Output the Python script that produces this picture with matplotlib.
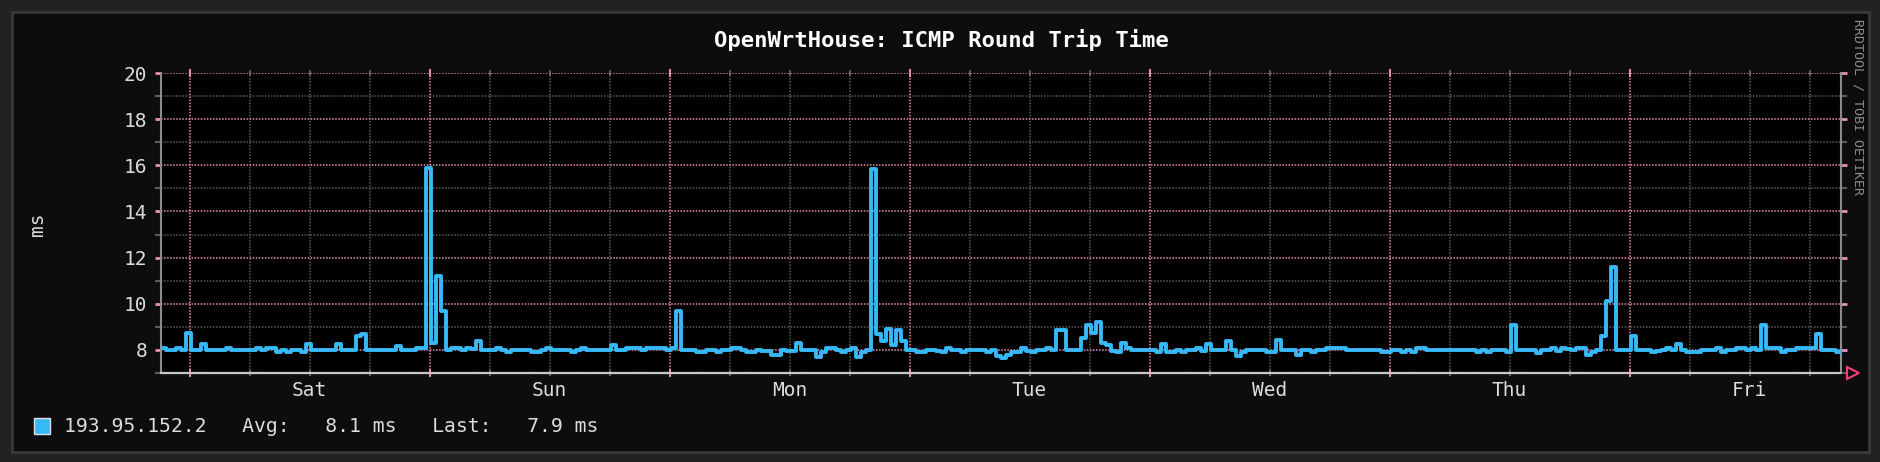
import numpy as np
import matplotlib.pyplot as plt
from matplotlib.patches import Rectangle

plt.rcParams['font.family'] = ['DejaVu Sans Mono']
plt.rcParams['lines.scale_dashes'] = False

# ping round trip time (ms), 30 minute averages, oldest first (one week)
rtt_ms = [
    8.1, 8.0, 8.0, 8.1, 8.0, 8.75, 8.0, 8.0, 8.25, 8.0, 8.0, 8.0,
    8.0, 8.1, 8.0, 8.0, 8.0, 8.0, 8.0, 8.1, 8.0, 8.1, 8.1, 7.9,
    8.0, 7.9, 8.0, 8.0, 7.9, 8.25, 8.0, 8.0, 8.0, 8.0, 8.0, 8.25,
    8.0, 8.0, 8.0, 8.6, 8.7, 8.0, 8.0, 8.0, 8.0, 8.0, 8.0, 8.15,
    8.0, 8.0, 8.0, 8.1, 8.1, 15.9, 8.3, 11.2, 9.7, 8.0, 8.1, 8.1,
    8.0, 8.1, 8.05, 8.4, 8.0, 8.0, 8.0, 8.1, 8.0, 7.9, 8.0, 8.0,
    8.0, 8.0, 7.9, 7.9, 8.0, 8.1, 8.0, 8.0, 8.0, 8.0, 7.9, 8.0,
    8.1, 8.0, 8.0, 8.0, 8.0, 8.0, 8.2, 8.0, 8.0, 8.1, 8.1, 8.1,
    8.0, 8.1, 8.1, 8.1, 8.1, 8.0, 8.1, 9.7, 8.0, 8.0, 8.0, 7.9,
    7.9, 8.0, 8.0, 7.9, 8.0, 8.0, 8.1, 8.1, 8.0, 7.9, 7.9, 8.0,
    7.95, 7.95, 7.8, 7.8, 8.0, 7.95, 7.95, 8.3, 8.0, 8.0, 8.0, 7.7,
    7.9, 8.1, 8.1, 8.0, 7.9, 8.0, 8.1, 7.7, 7.9, 8.0, 15.85, 8.7,
    8.4, 8.9, 8.2, 8.85, 8.4, 8.0, 8.0, 7.9, 7.9, 8.0, 8.0, 7.95,
    7.9, 8.1, 8.0, 8.0, 7.9, 8.0, 8.0, 8.0, 8.0, 7.9, 8.0, 7.75,
    7.65, 7.8, 7.9, 7.9, 8.1, 7.95, 7.9, 8.0, 8.0, 8.1, 8.0, 8.85,
    8.85, 8.0, 8.0, 8.0, 8.5, 9.1, 8.75, 9.2, 8.3, 8.2, 7.95, 7.9,
    8.3, 8.1, 8.0, 8.0, 8.0, 8.0, 8.0, 7.9, 8.25, 7.9, 7.9, 8.0,
    7.9, 8.0, 8.0, 8.1, 7.95, 8.25, 8.0, 8.0, 8.0, 8.4, 8.0, 7.75,
    7.9, 8.0, 8.0, 8.0, 8.0, 7.9, 7.9, 8.45, 8.0, 8.0, 8.0, 7.8,
    8.0, 8.0, 7.9, 8.0, 8.0, 8.1, 8.1, 8.1, 8.1, 8.0, 8.0, 8.0,
    8.0, 8.0, 8.0, 8.0, 7.9, 7.9, 8.0, 8.0, 7.9, 8.0, 7.9, 8.1,
    8.1, 8.0, 8.0, 8.0, 8.0, 8.0, 8.0, 8.0, 8.0, 8.0, 8.0, 7.9,
    8.0, 7.9, 8.0, 8.0, 8.0, 7.9, 9.1, 8.0, 8.0, 8.0, 8.0, 7.85,
    8.0, 8.0, 8.1, 7.95, 8.1, 8.05, 8.0, 8.1, 8.1, 7.8, 7.9, 8.0,
    8.6, 10.1, 11.6, 8.0, 8.0, 8.0, 8.6, 8.0, 8.0, 8.0, 7.9, 7.95,
    8.0, 8.1, 8.0, 8.25, 8.0, 7.9, 7.9, 7.9, 8.0, 8.0, 8.0, 8.1,
    7.9, 8.0, 8.0, 8.1, 8.1, 8.0, 8.1, 8.0, 9.1, 8.1, 8.1, 8.1,
    7.9, 8.0, 8.0, 8.1, 8.1, 8.1, 8.1, 8.7, 8.0, 8.0, 8.0, 7.9,
]
step_h = 0.5            # hours per sample
span_h = 168            # one week shown
first_midnight_h = 2.85 # graph starts friday 21:09
day_names = ["Sat", "Sun", "Mon", "Tue", "Wed", "Thu", "Fri"]
host = "193.95.152.2"
avg_ms = 8.1
last_ms = 7.9

LINE = '#36b9f6'
PINK = '#e690b6'
GRAY = '#5c5c5c'
TXT = '#dcdcdc'
W, H = 1880, 462

fig = plt.figure(figsize=(W / 100, H / 100), dpi=100, facecolor='#222222')
fig.add_artist(Rectangle((12 / W, 1 - 452 / H), 1857 / W, 440 / H,
                         transform=fig.transFigure, facecolor='#0d0d0d',
                         edgecolor='#3c3c3c', linewidth=1.8, zorder=-1))

ax = fig.add_axes([161 / W, 1 - 373 / H, 1680 / W, 300 / H], facecolor='black')

x = np.arange(len(rtt_ms) + 1) * step_h
y = rtt_ms + rtt_ms[-1:]
ax.plot(x, y, drawstyle='steps-post', color=LINE, linewidth=2.8, zorder=3)

ax.set_xlim(0, span_h)
ax.set_ylim(7, 20)

# x: midnights pink, every 6 hours gray, day names at noon
midnights = first_midnight_h + 24 * np.arange(len(day_names))
sixes = first_midnight_h + 6 * np.arange(4 * len(day_names))
noons = midnights + 12
ax.set_xticks(midnights)
ax.set_xticks(sixes, minor=True)
ax.tick_params(axis='x', which='major', direction='inout', length=6, width=1.4,
               color=PINK, top=True, bottom=True, labelbottom=False)
ax.tick_params(axis='x', which='minor', direction='inout', length=4, width=1.4,
               color=GRAY, top=True, bottom=True)

sec = ax.secondary_xaxis('bottom')
sec.set_xticks(noons, labels=day_names)
sec.tick_params(length=0, pad=6, labelsize=14, labelcolor=TXT)
sec.spines['bottom'].set_visible(False)

# y: even values pink, odd values gray
ax.set_yticks(np.arange(8, 21, 2))
ax.set_yticks(np.arange(7, 20, 2), minor=True)
ax.tick_params(axis='y', which='major', direction='out', length=4, width=2,
               color=PINK, left=True, right=True, labelsize=14, labelcolor=TXT,
               pad=6)
ax.tick_params(axis='y', which='minor', direction='out', length=4, width=1.5,
               color=GRAY, left=True, right=True)

dots = (0, (1.1, 1.1))
ax.grid(True, which='major', color=PINK, linewidth=1.1, linestyle=dots)
ax.grid(True, which='minor', color=GRAY, linewidth=1.1, linestyle=dots)

ax.spines['top'].set_visible(False)
for side in ['left', 'right']:
    ax.spines[side].set_color('#8c8c8c')
    ax.spines[side].set_linewidth(1.5)
ax.spines['bottom'].set_color('#c8c8c8')
ax.spines['bottom'].set_linewidth(1.6)
ax.spines['bottom'].set_linestyle(dots)

# arrow at the end of the time axis
ax.plot([1.007], [0], marker='>', markersize=8, markerfacecolor='none',
        markeredgecolor='#ff3b7f', markeredgewidth=1.5,
        transform=ax.transAxes, clip_on=False)

fig.text(941 / W, 1 - 40 / H, "OpenWrtHouse: ICMP Round Trip Time",
         ha='center', va='center', fontsize=16, fontweight='bold', color='white')
fig.text(37 / W, 1 - 224 / H, "ms", rotation=90, ha='center', va='center',
         fontsize=14, color=TXT)
fig.text(1858 / W, 1 - 107 / H, "RRDTOOL / TOBI OETIKER", rotation=270,
         ha='center', va='center', fontsize=9.5, color='#8a8a8a')

# legend
fig.add_artist(Rectangle((34 / W, 1 - 434 / H), 16 / W, 16 / H,
                         transform=fig.transFigure, facecolor=LINE,
                         edgecolor='#e0e0e0', linewidth=1))
fig.text(64 / W, 1 - 426 / H,
         f"{host}   Avg:   {avg_ms:.1f} ms   Last:   {last_ms:.1f} ms",
         ha='left', va='center', fontsize=14.2, color=TXT)

fig.savefig('out.png', dpi=100, facecolor=fig.get_facecolor())
